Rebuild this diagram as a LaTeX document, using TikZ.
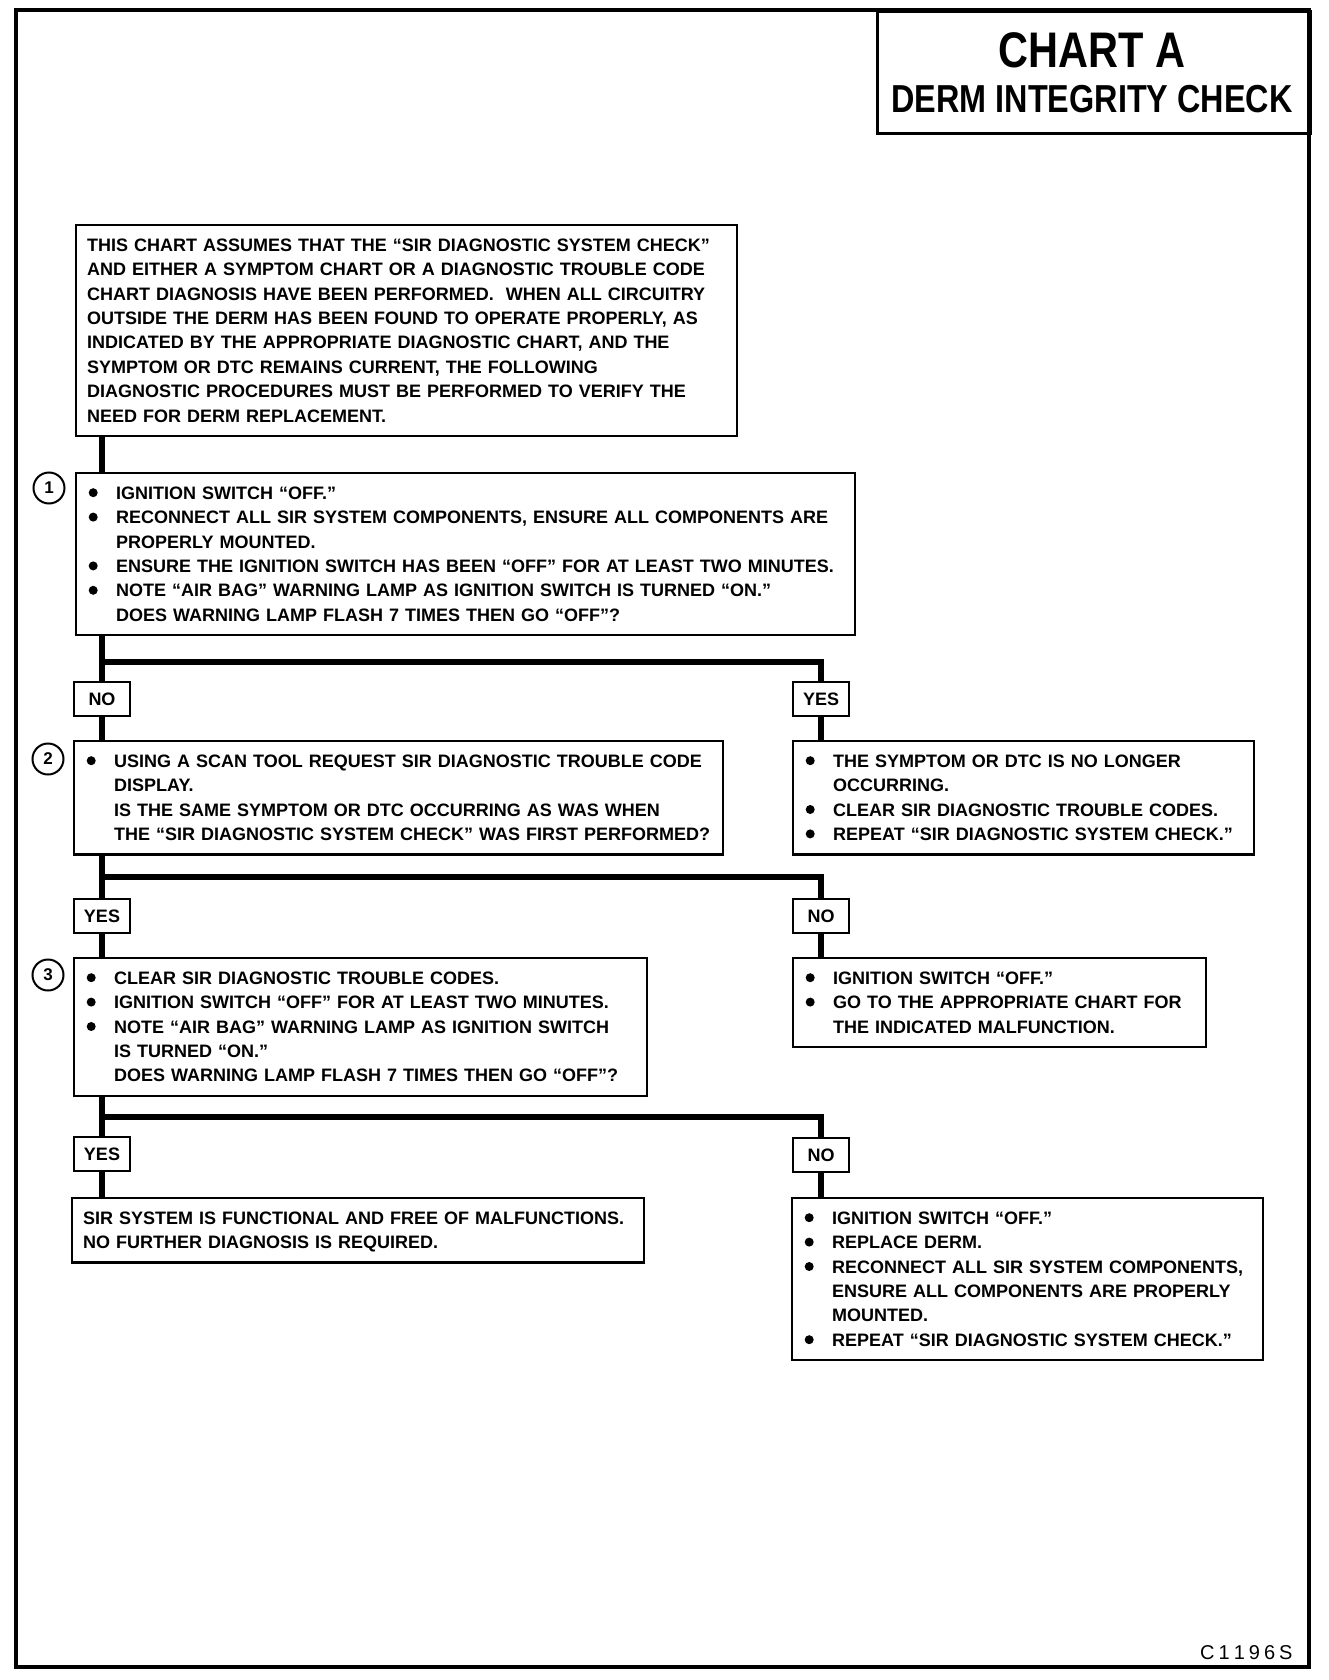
\documentclass[tikz,border=0pt]{standalone}
\usepackage{fontspec}
\setmainfont{Liberation Sans}
\newfontfamily\titlefont[FakeStretch=0.83]{Liberation Sans}
\setlength{\parindent}{0pt}

\newcommand{\capstrut}{\rule[-5pt]{0pt}{22pt}}
\newcommand{\mk}{\makebox[28pt][l]{\hspace*{0.5pt}\tikz[baseline=-6.5pt]\fill[black] (0,0) circle (4.5pt);}\capstrut}
\newcommand{\itm}{\par\mk}
\newcommand{\cnt}{\par\hspace*{28pt}\capstrut}

\begin{document}
\begin{tikzpicture}[x=1pt, y=-1pt,
    box/.style={draw, line width=2.4pt, fill=white, anchor=north west, align=left,
      inner ysep=9pt, font=\fontsize{18}{24.4}\selectfont\bfseries},
    listbox/.style={box, inner xsep=12pt},
    textbox/.style={box, inner xsep=11pt},
    tag/.style={draw, line width=2.4pt, fill=white, minimum width=56pt, minimum height=34pt,
      inner sep=0pt, font=\fontsize{18}{18}\selectfont\bfseries},
    num/.style={draw, circle, line width=2pt, minimum size=31pt, inner sep=0pt,
      font=\fontsize{17}{17}\selectfont\bfseries},
    link/.style={line width=6pt}]
    \useasboundingbox (0,0) rectangle (1328,1680);
    \draw[line width=4.5pt] (16,10) rectangle (1309,1667);

    \node[draw, line width=3pt, anchor=north west, minimum width=433pt, minimum height=122pt] (T) at (876,10) {};
    \node[anchor=base, font=\titlefont\fontsize{50}{50}\selectfont\bfseries] (T1) at (1092,68) {CHART A};
    \node[anchor=base, font=\titlefont\fontsize{39}{39}\selectfont\bfseries] (T2) at (1092,113) {DERM INTEGRITY CHECK};

    \node[textbox, text width=639pt] (I0) at (75,224) {\capstrut THIS CHART ASSUMES THAT THE “SIR DIAGNOSTIC SYSTEM CHECK”\\
      AND EITHER A SYMPTOM CHART OR A DIAGNOSTIC TROUBLE CODE\\
      CHART DIAGNOSIS HAVE BEEN PERFORMED.\ \ WHEN ALL CIRCUITRY\\
      OUTSIDE THE DERM HAS BEEN FOUND TO OPERATE PROPERLY, AS\\
      INDICATED BY THE APPROPRIATE DIAGNOSTIC CHART, AND THE\\
      SYMPTOM OR DTC REMAINS CURRENT, THE FOLLOWING\\
      DIAGNOSTIC PROCEDURES MUST BE PERFORMED TO VERIFY THE\\
      NEED FOR DERM REPLACEMENT.\capstrut};

    \node[listbox, text width=755pt] (S1) at (75,472) {\mk IGNITION SWITCH “OFF.”
      \itm RECONNECT ALL SIR SYSTEM COMPONENTS, ENSURE ALL COMPONENTS ARE
      \cnt PROPERLY MOUNTED.
      \itm ENSURE THE IGNITION SWITCH HAS BEEN “OFF” FOR AT LEAST TWO MINUTES.
      \itm NOTE “AIR BAG” WARNING LAMP AS IGNITION SWITCH IS TURNED “ON.”
      \cnt DOES WARNING LAMP FLASH 7 TIMES THEN GO “OFF”?};
    \node[num] (C1) at (49,488) {1};

    \node[tag] (NO1) at (102,699) {NO};
    \node[tag] (YES1) at (821,699) {YES};

    \node[listbox, text width=625pt] (S2) at (73,740) {\mk USING A SCAN TOOL REQUEST SIR DIAGNOSTIC TROUBLE CODE
      \cnt DISPLAY.
      \cnt IS THE SAME SYMPTOM OR DTC OCCURRING AS WAS WHEN
      \cnt THE “SIR DIAGNOSTIC SYSTEM CHECK” WAS FIRST PERFORMED?};
    \node[num] (C2) at (48,759) {2};
    \node[listbox, text width=437pt] (R1) at (792,740) {\mk THE SYMPTOM OR DTC IS NO LONGER
      \cnt OCCURRING.
      \itm CLEAR SIR DIAGNOSTIC TROUBLE CODES.
      \itm REPEAT “SIR DIAGNOSTIC SYSTEM CHECK.”};

    \node[tag] (YES2) at (102,916) {YES};
    \node[tag] (NO2) at (821,916) {NO};

    \node[listbox, text width=549pt] (S3) at (73,957) {\mk CLEAR SIR DIAGNOSTIC TROUBLE CODES.
      \itm IGNITION SWITCH “OFF” FOR AT LEAST TWO MINUTES.
      \itm NOTE “AIR BAG” WARNING LAMP AS IGNITION SWITCH
      \cnt IS TURNED “ON.”
      \cnt DOES WARNING LAMP FLASH 7 TIMES THEN GO “OFF”?};
    \node[num] (C3) at (48,975) {3};
    \node[listbox, text width=389pt] (R2) at (792,957) {\mk IGNITION SWITCH “OFF.”
      \itm GO TO THE APPROPRIATE CHART FOR
      \cnt THE INDICATED MALFUNCTION.};

    \node[tag] (YES3) at (102,1154) {YES};
    \node[tag] (NO3) at (821,1155) {NO};

    \node[textbox, text width=550pt] (F) at (71,1197) {\capstrut SIR SYSTEM IS FUNCTIONAL AND FREE OF MALFUNCTIONS.\\
      NO FURTHER DIAGNOSIS IS REQUIRED.\capstrut};
    \node[listbox, text width=447pt] (R3) at (791,1197) {\mk IGNITION SWITCH “OFF.”
      \itm REPLACE DERM.
      \itm RECONNECT ALL SIR SYSTEM COMPONENTS,
      \cnt ENSURE ALL COMPONENTS ARE PROPERLY
      \cnt MOUNTED.
      \itm REPEAT “SIR DIAGNOSTIC SYSTEM CHECK.”};

    \coordinate (J1) at (0,662);
    \coordinate (J2) at (0,877);
    \coordinate (J3) at (0,1117);

    \draw[link] (I0.south -| NO1) -- (S1.north -| NO1);
    \draw[link] (S1.south -| NO1) -- (NO1.north);
    \draw[link] (NO1 |- J1) -| (YES1.north);
    \draw[link] (NO1.south) -- (S2.north -| NO1);
    \draw[link] (YES1.south) -- (R1.north -| YES1);
    \draw[link] (S2.south -| YES2) -- (YES2.north);
    \draw[link] (YES2 |- J2) -| (NO2.north);
    \draw[link] (YES2.south) -- (S3.north -| YES2);
    \draw[link] (NO2.south) -- (R2.north -| NO2);
    \draw[link] (S3.south -| YES3) -- (YES3.north);
    \draw[link] (YES3 |- J3) -| (NO3.north);
    \draw[link] (YES3.south) -- (F.north -| YES3);
    \draw[link] (NO3.south) -- (R3.north -| NO3);

    \node[anchor=base east, font=\fontsize{20}{20}\selectfont] (code) at (1296,1659) {C\kern4pt1\kern4pt1\kern4pt9\kern4pt6\kern4pt S};
\end{tikzpicture}
\end{document}
